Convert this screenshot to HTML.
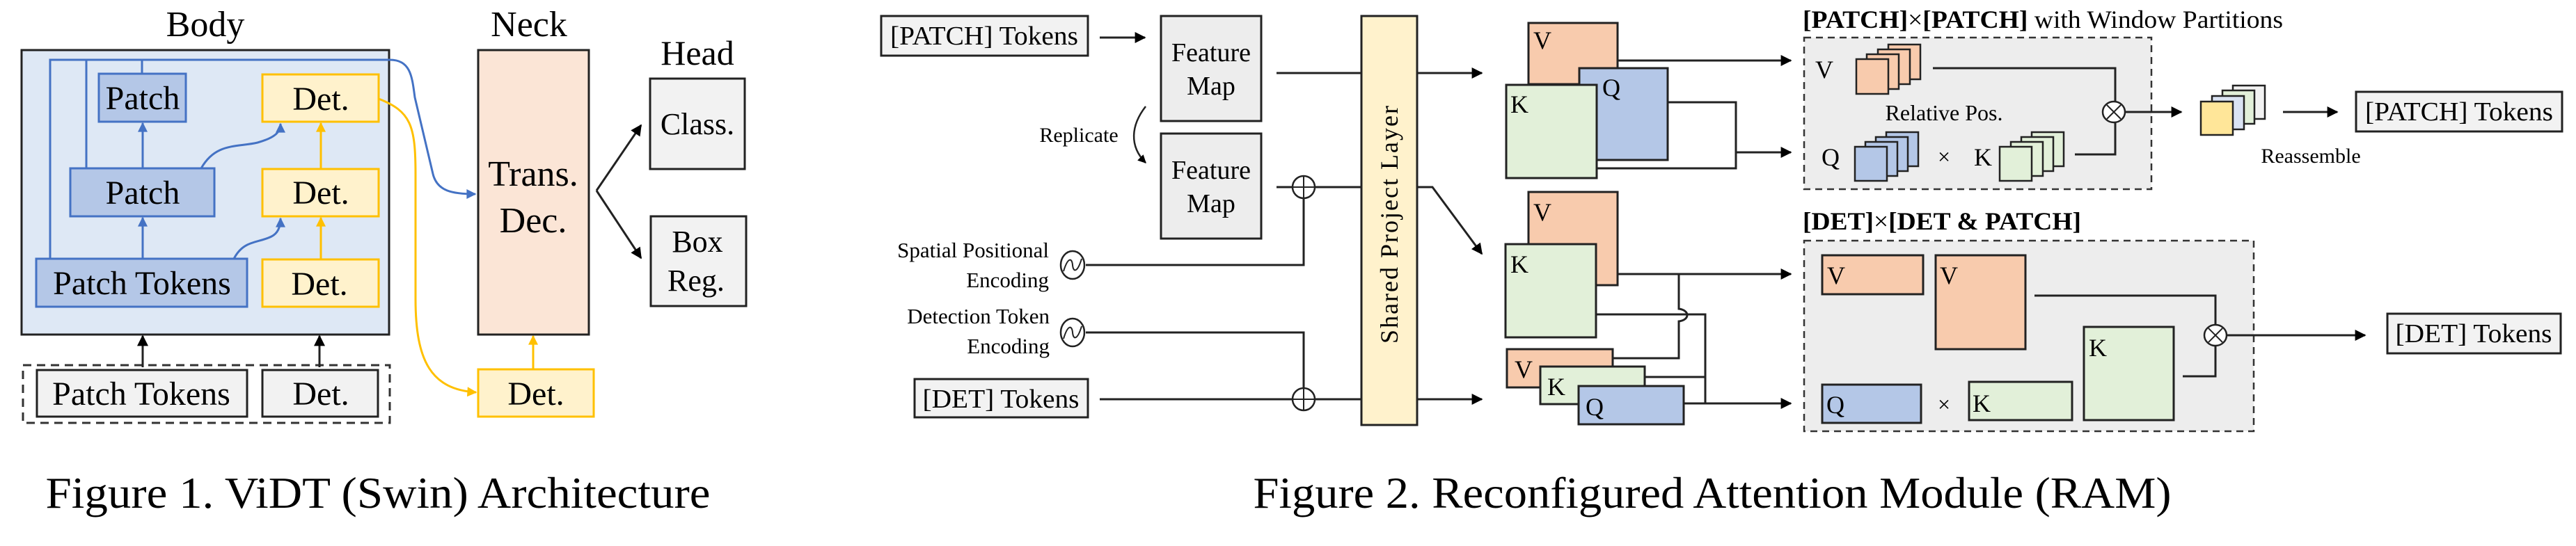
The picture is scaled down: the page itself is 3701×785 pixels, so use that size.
<!DOCTYPE html>
<html><head><meta charset="utf-8"><style>
html,body{margin:0;padding:0;background:#fff;}
svg{display:block;font-family:"Liberation Serif","Times New Roman","DejaVu Serif",serif;}
svg text{font-family:"Liberation Serif","Times New Roman","DejaVu Serif",serif;fill:#000;}
</style></head><body>
<svg width="3701" height="785" viewBox="0 0 3701 785" xmlns="http://www.w3.org/2000/svg" font-family="Liberation Serif, Times New Roman, DejaVu Serif, serif">
<defs>
<marker id="ab" viewBox="0 0 10 10" refX="9" refY="5" markerWidth="14" markerHeight="12" orient="auto" markerUnits="userSpaceOnUse"><path d="M0,0 L10,5 L0,10 z" fill="#000"/></marker>
<marker id="abk" viewBox="0 0 10 10" refX="9" refY="5" markerWidth="18" markerHeight="16" orient="auto" markerUnits="userSpaceOnUse"><path d="M0,0 L10,5 L0,10 z" fill="#000"/></marker>
<marker id="abl" viewBox="0 0 10 10" refX="9" refY="5" markerWidth="16" markerHeight="14" orient="auto" markerUnits="userSpaceOnUse"><path d="M0,0 L10,5 L0,10 z" fill="#4472c4"/></marker>
<marker id="ay" viewBox="0 0 10 10" refX="9" refY="5" markerWidth="16" markerHeight="14" orient="auto" markerUnits="userSpaceOnUse"><path d="M0,0 L10,5 L0,10 z" fill="#ffc000"/></marker>
</defs>

<!-- ===== Figure 1 ===== -->
<text x="295" y="52" font-size="52" text-anchor="middle">Body</text>
<text x="760" y="52" font-size="52" text-anchor="middle">Neck</text>
<text x="1002" y="93" font-size="50" text-anchor="middle">Head</text>

<rect x="31" y="72" width="528" height="409" fill="#dee8f5" stroke="#222" stroke-width="3"/>
<g stroke="#4472c4" stroke-width="3" fill="none">
<path d="M72,372 V86 H560 C590,86 592,110 596,140 L622,250 C628,275 650,279 683,279" marker-end="url(#abl)"/>
<path d="M124,242 V86"/>
<path d="M204,106 V86"/>
<path d="M205,242 V177" marker-end="url(#abl)"/>
<path d="M205,372 V313" marker-end="url(#abl)"/>
<path d="M289,242 C310,205 340,212 370,205 C395,198 403,190 403,178" marker-end="url(#abl)"/>
<path d="M336,372 C350,345 370,350 390,340 C400,335 403,325 403,314" marker-end="url(#abl)"/>
</g>
<g stroke="#ffc000" stroke-width="3" fill="none">
<path d="M544,142 C590,160 597,180 597,250 V430 C597,520 620,560 684,564" marker-end="url(#ay)"/>
<path d="M461,243 V177" marker-end="url(#ay)"/>
<path d="M461,373 V313" marker-end="url(#ay)"/>
<path d="M766,531 V483" marker-end="url(#ay)"/>
</g>
<g stroke="#4472c4" stroke-width="3" fill="#b4c7e7">
<rect x="142" y="106" width="125" height="69"/>
<rect x="101" y="242" width="207" height="69"/>
<rect x="52" y="372" width="303" height="69"/>
</g>
<g stroke="#ffc000" stroke-width="3" fill="#fff2cc">
<rect x="377" y="107" width="167" height="68"/>
<rect x="377" y="243" width="167" height="68"/>
<rect x="377" y="373" width="167" height="68"/>
<rect x="687" y="531" width="166" height="68"/>
</g>
<g font-size="48" text-anchor="middle">
<text x="205" y="157">Patch</text>
<text x="205" y="293">Patch</text>
<text x="204" y="423">Patch Tokens</text>
<text x="461" y="158">Det.</text>
<text x="461" y="293">Det.</text>
<text x="459" y="424">Det.</text>
<text x="770" y="582">Det.</text>
</g>
<rect x="687" y="72" width="159" height="409" fill="#fbe5d6" stroke="#222" stroke-width="3"/>
<text x="766" y="267" font-size="52" text-anchor="middle">Trans.</text>
<text x="766" y="334" font-size="52" text-anchor="middle">Dec.</text>
<rect x="934" y="113" width="136" height="130" fill="#f2f2f2" stroke="#222" stroke-width="3"/>
<rect x="935" y="311" width="137" height="129" fill="#f2f2f2" stroke="#222" stroke-width="3"/>
<text x="1002" y="193" font-size="44" text-anchor="middle">Class.</text>
<text x="1002" y="362" font-size="44" text-anchor="middle">Box</text>
<text x="1000" y="418" font-size="44" text-anchor="middle">Reg.</text>
<g stroke="#222" stroke-width="3" fill="none">
<path d="M857,274 L921,180" marker-end="url(#abk)"/>
<path d="M857,274 L921,371" marker-end="url(#abk)"/>
</g>
<rect x="33" y="525" width="527" height="83" fill="none" stroke="#333" stroke-width="3" stroke-dasharray="12,8"/>
<rect x="53" y="532" width="302" height="67" fill="#f2f2f2" stroke="#222" stroke-width="3"/>
<rect x="377" y="532" width="166" height="67" fill="#f2f2f2" stroke="#222" stroke-width="3"/>
<text x="203" y="582" font-size="48" text-anchor="middle">Patch Tokens</text>
<text x="461" y="582" font-size="48" text-anchor="middle">Det.</text>
<g stroke="#222" stroke-width="3">
<path d="M205,528 V483" marker-end="url(#abk)"/>
<path d="M459,528 V483" marker-end="url(#abk)"/>
</g>
<text x="543" y="730" font-size="64" text-anchor="middle" textLength="955" lengthAdjust="spacingAndGlyphs">Figure 1. ViDT (Swin) Architecture</text>

<!-- ===== Figure 2 ===== -->
<rect x="1266" y="23" width="297" height="57" fill="#f2f2f2" stroke="#222" stroke-width="3"/>
<text x="1414" y="64" font-size="38" text-anchor="middle" textLength="270" lengthAdjust="spacingAndGlyphs">[PATCH] Tokens</text>
<path d="M1580,54 H1645" stroke="#222" stroke-width="3" marker-end="url(#abk)"/>
<rect x="1668" y="23" width="144" height="151" fill="#ededed" stroke="#222" stroke-width="3"/>
<rect x="1668" y="192" width="144" height="151" fill="#ededed" stroke="#222" stroke-width="3"/>
<text x="1740" y="88" font-size="38" text-anchor="middle">Feature</text>
<text x="1740" y="136" font-size="38" text-anchor="middle">Map</text>
<text x="1740" y="257" font-size="38" text-anchor="middle">Feature</text>
<text x="1740" y="305" font-size="38" text-anchor="middle">Map</text>
<text x="1550" y="204" font-size="30" text-anchor="middle">Replicate</text>
<path d="M1646,153 C1625,180 1622,210 1646,234" stroke="#222" stroke-width="2.5" fill="none" marker-end="url(#ab)"/>

<rect x="1956" y="23" width="80" height="588" fill="#fff2cc" stroke="#222" stroke-width="3"/>
<text transform="translate(2008,322) rotate(-90)" font-size="36" text-anchor="middle" letter-spacing="2">Shared Project Layer</text>

<g stroke="#222" stroke-width="3" fill="none">
<path d="M1834,105 H1956"/>
<path d="M2036,105 H2129" marker-end="url(#abk)"/>
<path d="M1834,269 H1956"/>
<path d="M2036,269 H2058 L2129,365" marker-end="url(#abk)"/>
<path d="M1560,381 H1873 V285"/>
<path d="M1560,478 H1873 V558"/>
<path d="M1580,574 H1956"/>
<path d="M2036,574 H2129" marker-end="url(#abk)"/>
</g>
<g stroke="#222" stroke-width="2.5" fill="#fff">
<ellipse cx="1873" cy="269" rx="16" ry="16"/>
<ellipse cx="1873" cy="574" rx="16" ry="16"/>
<ellipse cx="1541" cy="381" rx="17" ry="20"/>
<ellipse cx="1541" cy="478" rx="17" ry="20"/>
</g>
<g stroke="#222" stroke-width="2" fill="none">
<path d="M1873,253 V285 M1857,269 H1889"/>
<path d="M1873,558 V590 M1857,574 H1889"/>
<path d="M1528,390 C1534,370 1540,370 1541,381 C1542,392 1548,392 1554,372"/>
<path d="M1528,487 C1534,467 1540,467 1541,478 C1542,489 1548,489 1554,469"/>
</g>
<g font-size="31" text-anchor="end">
<text x="1507" y="370">Spatial Positional</text>
<text x="1507" y="413">Encoding</text>
<text x="1508" y="465">Detection Token</text>
<text x="1508" y="508">Encoding</text>
</g>
<rect x="1314" y="545" width="249" height="55" fill="#f2f2f2" stroke="#222" stroke-width="3"/>
<text x="1438" y="586" font-size="38" text-anchor="middle" textLength="225" lengthAdjust="spacingAndGlyphs">[DET] Tokens</text>

<g stroke="#222" stroke-width="3" fill="none">
<path d="M2324,87 H2573" marker-end="url(#abk)"/>
<path d="M2396,147 H2494 V242 H2294"/>
<path d="M2494,219 H2573" marker-end="url(#abk)"/>
</g>
<rect x="2196" y="33" width="128" height="88" fill="#f8cbad" stroke="#222" stroke-width="3"/>
<rect x="2269" y="98" width="127" height="132" fill="#b4c7e7" stroke="#222" stroke-width="3"/>
<rect x="2164" y="122" width="130" height="134" fill="#e2f0d9" stroke="#222" stroke-width="3"/>
<text x="2203" y="70" font-size="36">V</text>
<text x="2302" y="138" font-size="36">Q</text>
<text x="2170" y="162" font-size="36">K</text>

<g stroke="#222" stroke-width="3" fill="none">
<path d="M2324,394 H2573" marker-end="url(#abk)"/>
<path d="M2317,515 H2412 V462 C2428,460 2428,446 2412,444 V394"/>
<path d="M2293,452 H2450 V580"/>
<path d="M2363,542 H2450"/>
<path d="M2419,580 H2573" marker-end="url(#abk)"/>
</g>
<rect x="2196" y="276" width="128" height="134" fill="#f8cbad" stroke="#222" stroke-width="3"/>
<rect x="2163" y="351" width="130" height="134" fill="#e2f0d9" stroke="#222" stroke-width="3"/>
<text x="2203" y="317" font-size="36">V</text>
<text x="2170" y="392" font-size="36">K</text>
<rect x="2165" y="502" width="152" height="55" fill="#f8cbad" stroke="#222" stroke-width="3"/>
<rect x="2213" y="527" width="150" height="54" fill="#e2f0d9" stroke="#222" stroke-width="3"/>
<rect x="2268" y="555" width="151" height="55" fill="#b4c7e7" stroke="#222" stroke-width="3"/>
<text x="2176" y="543" font-size="36">V</text>
<text x="2223" y="568" font-size="36">K</text>
<text x="2278" y="597" font-size="36">Q</text>

<text x="2590" y="40" font-size="36" textLength="690" lengthAdjust="spacingAndGlyphs"><tspan font-weight="bold">[PATCH]</tspan>×<tspan font-weight="bold">[PATCH]</tspan> with Window Partitions</text>
<rect x="2592" y="54" width="499" height="218" fill="#ededed" stroke="#333" stroke-width="2.5" stroke-dasharray="10,7"/>
<text x="2608" y="112" font-size="36">V</text>
<text x="2617" y="238" font-size="36">Q</text>
<text x="2836" y="238" font-size="36">K</text>
<text x="2793" y="236" font-size="32" text-anchor="middle">×</text>
<text x="2793" y="173" font-size="32" text-anchor="middle">Relative Pos.</text>
<g stroke="#222" stroke-width="2.5">
<g fill="#f8cbad">
<rect x="2713" y="64" width="46" height="50"/><rect x="2698" y="71" width="46" height="50"/><rect x="2682" y="78" width="46" height="50"/><rect x="2667" y="85" width="46" height="50"/>
</g>
<g fill="#b4c7e7">
<rect x="2710" y="190" width="46" height="49"/><rect x="2695" y="197" width="46" height="49"/><rect x="2680" y="204" width="46" height="49"/><rect x="2665" y="211" width="46" height="49"/>
</g>
<g fill="#e2f0d9">
<rect x="2919" y="190" width="46" height="49"/><rect x="2904" y="197" width="46" height="49"/><rect x="2889" y="204" width="46" height="49"/><rect x="2873" y="211" width="46" height="49"/>
</g>
</g>
<g stroke="#222" stroke-width="3" fill="none">
<path d="M2777,98 H3039 V146"/>
<path d="M2981,222 H3039 V176"/>
<path d="M3052,161 H3134" marker-end="url(#abk)"/>
</g>
<ellipse cx="3037" cy="161" rx="16" ry="15" fill="#fff" stroke="#222" stroke-width="2.5"/>
<path d="M3027,151 L3047,171 M3047,151 L3027,171" stroke="#222" stroke-width="2"/>
<g stroke="#222" stroke-width="2.5">
<rect x="3208" y="123" width="46" height="48" fill="#f2f2f2"/>
<rect x="3193" y="130" width="46" height="48" fill="#e2f0d9"/>
<rect x="3178" y="138" width="46" height="48" fill="#dae3f3"/>
<rect x="3162" y="146" width="46" height="48" fill="#ffe699"/>
</g>
<path d="M3280,161 H3358" stroke="#222" stroke-width="3" marker-end="url(#abk)"/>
<text x="3320" y="234" font-size="30" text-anchor="middle">Reassemble</text>
<rect x="3385" y="132" width="296" height="57" fill="#f2f2f2" stroke="#222" stroke-width="3"/>
<text x="3533" y="173" font-size="38" text-anchor="middle" textLength="270" lengthAdjust="spacingAndGlyphs">[PATCH] Tokens</text>

<text x="2590" y="330" font-size="36" textLength="400" lengthAdjust="spacingAndGlyphs"><tspan font-weight="bold">[DET]</tspan>×<tspan font-weight="bold">[DET &amp; PATCH]</tspan></text>
<rect x="2592" y="346" width="646" height="274" fill="#ededed" stroke="#333" stroke-width="2.5" stroke-dasharray="10,7"/>
<g stroke="#222" stroke-width="3">
<rect x="2618" y="367" width="145" height="56" fill="#f8cbad"/>
<rect x="2781" y="367" width="129" height="135" fill="#f8cbad"/>
<rect x="2994" y="470" width="129" height="134" fill="#e2f0d9"/>
<rect x="2618" y="553" width="142" height="55" fill="#b4c7e7"/>
<rect x="2829" y="549" width="148" height="55" fill="#e2f0d9"/>
</g>
<text x="2625" y="408" font-size="36">V</text>
<text x="2787" y="408" font-size="36">V</text>
<text x="3001" y="512" font-size="36">K</text>
<text x="2624" y="594" font-size="36">Q</text>
<text x="2834" y="592" font-size="36">K</text>
<text x="2793" y="592" font-size="32" text-anchor="middle">×</text>
<g stroke="#222" stroke-width="3" fill="none">
<path d="M2923,425 H3183 V467"/>
<path d="M3136,541 H3183 V497"/>
<path d="M3198,482 H3398" marker-end="url(#abk)"/>
</g>
<ellipse cx="3183" cy="482" rx="16" ry="15" fill="#fff" stroke="#222" stroke-width="2.5"/>
<path d="M3173,472 L3193,492 M3193,472 L3173,492" stroke="#222" stroke-width="2"/>
<rect x="3430" y="451" width="249" height="57" fill="#f2f2f2" stroke="#222" stroke-width="3"/>
<text x="3554" y="492" font-size="38" text-anchor="middle" textLength="225" lengthAdjust="spacingAndGlyphs">[DET] Tokens</text>

<text x="2460" y="730" font-size="64" text-anchor="middle" textLength="1319" lengthAdjust="spacingAndGlyphs">Figure 2. Reconfigured Attention Module (RAM)</text>
</svg>
</body></html>
